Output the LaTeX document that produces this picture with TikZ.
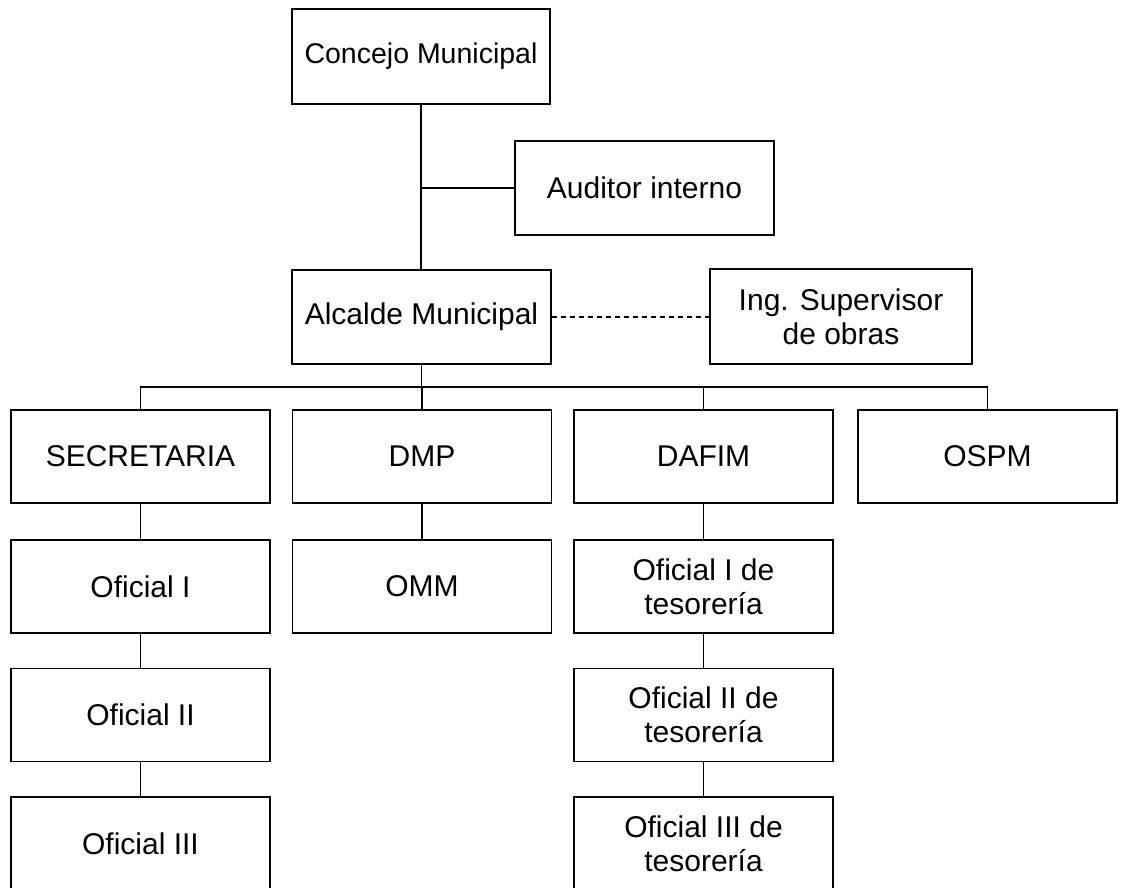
\documentclass[tikz,border=0pt]{standalone}
\usepackage{fontspec}
\setmainfont{Liberation Sans}
\begin{document}
\begin{tikzpicture}[x=1pt,y=-1pt,
  box/.style={draw=black,line width=1.4pt,rectangle,minimum width=259pt,minimum height=93pt,inner sep=0pt,align=center,font=\fontsize{30}{34}\selectfont,text=black},
  conn/.style={draw=black,line width=1.4pt},
  dconn/.style={draw=black,line width=1.2pt,dash pattern=on 5pt off 4pt}]
\useasboundingbox[fill=white] (0,0) rectangle (1121,888);
% top level
\node[box,minimum width=258pt,minimum height=95pt,font=\fontsize{28.5}{34}\selectfont] (concejo) at (421,56.5) {Concejo Municipal};
\node[box,minimum height=94pt] (auditor) at (644.5,188) {Auditor interno};
\node[box,minimum height=94pt] (alcalde) at (421.5,317) {Alcalde Municipal};
\node[box,minimum width=262pt,minimum height=95pt] (ing) at (841,316.5) {Ing. Supervisor\\de obras};
% departments
\node[box] (sec) at (140.5,456.5) {SECRETARIA};
\node[box] (dmp) at (422,456.5) {DMP};
\node[box] (dafim) at (703.5,456.5) {DAFIM};
\node[box] (ospm) at (987.5,456.5) {OSPM};
% second level
\node[box] (of1) at (140.5,586.5) {Oficial I};
\node[box] (of2) at (140.5,715) {Oficial II};
\node[box] (of3) at (140.5,843.5) {Oficial III};
\node[box] (omm) at (422,586.5) {OMM};
\node[box] (tes1) at (703.5,586.5) {Oficial I de\\tesorería};
\node[box] (tes2) at (703.5,715) {Oficial II de\\tesorería};
\node[box] (tes3) at (703.5,843.5) {Oficial III de\\tesorería};
% connectors
\coordinate (busy) at (0,387);
\draw[conn] (concejo.south) -- (concejo.south |- alcalde.north);
\draw[conn] (concejo.south |- auditor.west) -- (auditor.west);
\draw[dconn] (alcalde.east) -- (alcalde.east -| ing.west);
\draw[conn] (alcalde.south) -- (alcalde.south |- busy);
\draw[conn] (sec.north) |- (busy -| ospm.north) -- (ospm.north);
\draw[conn] (dmp.north) -- (dmp.north |- busy);
\draw[conn] (dafim.north) -- (dafim.north |- busy);
\draw[conn] (sec.south) -- (of1.north);
\draw[conn] (of1.south) -- (of2.north);
\draw[conn] (of2.south) -- (of3.north);
\draw[conn] (dmp.south) -- (omm.north);
\draw[conn] (dafim.south) -- (tes1.north);
\draw[conn] (tes1.south) -- (tes2.north);
\draw[conn] (tes2.south) -- (tes3.north);
\end{tikzpicture}
\end{document}
